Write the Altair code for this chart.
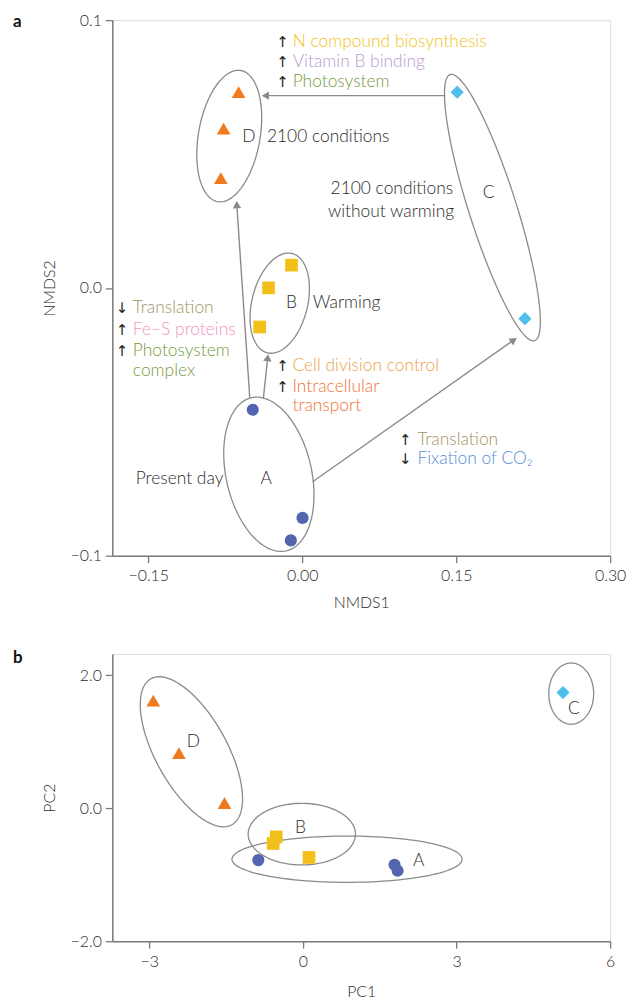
import math
import altair as alt
import pandas as pd

FONT = "Lato"
GREY = "#8a8a8a"
BOX = "#7a7a7a"
INK = "#2b2b2b"
TXT = 17.5

GROUPS = ["A", "B", "C", "D"]
SHAPES = ["circle", "square", "diamond", "triangle-up"]
COLORS = ["#5465b0", "#f2c018", "#4dbfea", "#f07a1e"]
SIZES = [150, 190, 210, 290]

# ---------------- panel a (NMDS) ----------------
a_group = ["A", "A", "A", "B", "B", "B", "C", "C", "D", "D", "D"]
a_x = [-0.0482, 0.0003, -0.0111, -0.0104, -0.0328, -0.0414, 0.151, 0.217, -0.062, -0.0766, -0.0793]
a_y = [-0.0455, -0.0859, -0.0943, 0.0085, 0.0000, -0.0146, 0.0731, -0.0115, 0.0731, 0.0595, 0.0410]

A_XDOM = [-0.185, 0.30]
A_YDOM = [-0.1, 0.1]
A_W, A_H = 501, 539
A_XT = [-0.15, 0.0, 0.15, 0.30]
A_YT = [-0.1, 0.0, 0.1]

# ellipses: id, centre x, centre y, semi-major (px), semi-minor (px), tilt (deg)
a_ell_id = ["A", "B", "C", "D"]
a_ell_cx = [-0.0325, -0.0219, 0.1853, -0.0711]
a_ell_cy = [-0.0696, -0.0057, 0.0300, 0.0567]
a_ell_a = [79, 51.5, 140.5, 67]
a_ell_b = [43, 28, 24, 31]
a_ell_tilt = [-12.8, 14, -17.6, 10]

# arrows (start -> tip)
arr_x0 = [0.1393, -0.0511, -0.0379, 0.0102]
arr_y0 = [0.0718, -0.0410, -0.0413, -0.0724]
arr_x1 = [-0.0398, -0.0640, -0.0332, 0.2093]
arr_y1 = [0.0718, 0.0326, -0.0246, -0.0186]

# coloured annotations: arrow glyph, text, colour, x of glyph, x of text, y
ann_glyph = ["↑", "↑", "↑", "↓", "↑", "↑", "", "↑", "↑", "", "↑", "↓"]
ann_text = ["N compound biosynthesis", "Vitamin B binding", "Photosystem",
            "Translation", "Fe–S proteins", "Photosystem", "complex",
            "Cell division control", "Intracellular", "transport",
            "Translation", "Fixation of CO₂"]
ann_color = ["#f4c21a", "#b99bcf", "#779a3c",
             "#9f9563", "#f296bf", "#779a3c", "#779a3c",
             "#eca24a", "#ee7534", "#ee7534",
             "#9f9563", "#588bd3"]
ann_gx = [-0.0192, -0.0192, -0.0192, -0.1756, -0.1756, -0.1756, -0.1756,
          -0.0192, -0.0192, -0.0192, 0.1003, 0.1003]
ann_tx = [-0.0093, -0.0093, -0.0093, -0.1650, -0.1650, -0.1650, -0.1650,
          -0.0095, -0.0095, -0.0095, 0.1122, 0.1122]
ann_y = [0.0920, 0.0845, 0.0768, -0.00765, -0.0157, -0.0235, -0.0309,
         -0.0291, -0.0369, -0.0443, -0.0567, -0.0640]

# black labels
lab_text = ["D", "2100 conditions", "2100 conditions", "without warming", "C",
            "B", "Warming", "Present day", "A"]
lab_x = [-0.0519, -0.0344, 0.1470, 0.1480, 0.1817, -0.0104, 0.0102, -0.1622, -0.0350]
lab_y = [0.0564, 0.0564, 0.0368, 0.0285, 0.0353, -0.0056, -0.0056, -0.0712, -0.0714]
lab_align = ["center", "left", "right", "right", "center", "center", "left", "left", "center"]

# ---------------- panel b (PCA) ----------------
b_group = ["A", "A", "A", "B", "B", "B", "C", "D", "D", "D"]
b_x = [-0.87, 1.79, 1.85, -0.52, -0.58, 0.12, 5.08, -2.92, -2.42, -1.53]
b_y = [-0.78, -0.85, -0.94, -0.43, -0.53, -0.74, 1.74, 1.62, 0.83, 0.08]

B_XDOM = [-3.72, 6.0]
B_YDOM = [-2.0, 2.32]
B_W, B_H = 501, 289
B_XT = [-3, 0, 3, 6]
B_YT = [-2.0, 0.0, 2.0]

b_ell_id = ["A", "B", "C", "D"]
b_ell_cx = [0.863, -0.02, 5.24, -2.176]
b_ell_cy = [-0.766, -0.389, 1.725, 0.85]
b_ell_a = [23.3, 31, 30.8, 84]
b_ell_b = [115.8, 54, 22.6, 36]
b_ell_tilt = [0, 0, 0, -29]

b_lab_text = ["D", "B", "A", "C"]
b_lab_x = [-2.14, -0.046, 2.26, 5.29]
b_lab_y = [1.00, -0.29, -0.79, 1.49]


def ellipse_df(ids, cxs, cys, As, Bs, tilts, kx, ky, n=120):
    rows = []
    for eid, cx, cy, a, b, tilt in zip(ids, cxs, cys, As, Bs, tilts):
        p = math.radians(tilt)
        for i in range(n + 1):
            t = 2 * math.pi * i / n
            u = b * math.cos(t)
            v = a * math.sin(t)
            dx = u * math.cos(p) - v * math.sin(p)
            dy = u * math.sin(p) + v * math.cos(p)
            rows.append({"id": eid, "o": i, "x": cx + dx / kx, "y": cy - dy / ky})
    return pd.DataFrame(rows)


def enc_xy(xdom, ydom, xt, yt, xfmt, yfmt, xtitle, ytitle, xtpad):
    common = dict(grid=False, tickSize=7, tickColor=BOX, domainColor=BOX,
                  domainWidth=1.5, tickWidth=1.3, labelFont=FONT, labelFontSize=16,
                  labelFontWeight=300, labelColor=INK, titleFont=FONT,
                  titleFontSize=16, titleFontWeight=300, titleColor=INK,
                  labelFlush=False)
    xa = alt.Axis(values=xt, format=xfmt, title=xtitle, labelPadding=5,
                  titlePadding=xtpad, **common)
    ya = alt.Axis(values=yt, format=yfmt, title=ytitle, labelPadding=4,
                  titlePadding=13, **common)
    xs = alt.Scale(domain=xdom, nice=False, zero=False)
    ys = alt.Scale(domain=ydom, nice=False, zero=False)
    return xs, ys, xa, ya


def panel(pts, ells, texts_black, xdom, ydom, xt, yt, xfmt, yfmt, xtitle, ytitle,
          w, h, letter, letter_y, xtpad, extra_layers_fn=None):
    xs, ys, xa, ya = enc_xy(xdom, ydom, xt, yt, xfmt, yfmt, xtitle, ytitle, xtpad)
    kx = w / (xdom[1] - xdom[0])
    ky = h / (ydom[1] - ydom[0])
    X = lambda f: alt.X(f, type="quantitative", scale=xs, axis=xa)
    Y = lambda f: alt.Y(f, type="quantitative", scale=ys, axis=ya)

    layers = []
    edf = ellipse_df(*ells, kx, ky)
    layers.append(alt.Chart(edf).mark_line(color=GREY, strokeWidth=1.3).encode(
        x=X("x"), y=Y("y"), order="o:Q", detail="id:N"))
    if extra_layers_fn is not None:
        layers += extra_layers_fn(X, Y, kx, ky)
    layers.append(alt.Chart(pts).mark_point(filled=True, opacity=1).encode(
        x=X("x"), y=Y("y"),
        shape=alt.Shape("g:N", scale=alt.Scale(domain=GROUPS, range=SHAPES), legend=None),
        color=alt.Color("g:N", scale=alt.Scale(domain=GROUPS, range=COLORS), legend=None),
        size=alt.Size("g:N", scale=alt.Scale(domain=GROUPS, range=SIZES), legend=None)))
    for al in ["left", "center", "right"]:
        sub = texts_black[texts_black["align"] == al]
        if len(sub):
            layers.append(alt.Chart(sub).mark_text(
                align=al, baseline="middle", font=FONT, fontSize=TXT, fontWeight=300,
                color=INK).encode(x=X("x"), y=Y("y"), text="t:N"))
    layers.append(alt.Chart(pd.DataFrame({"t": [letter]})).mark_text(
        align="left", baseline="middle", font=FONT, fontSize=17, fontWeight="bold",
        color="#111").encode(x=alt.value(-100), y=alt.value(letter_y), text="t:N"))
    return alt.layer(*layers).properties(width=w, height=h)


def a_extras(X, Y, kx, ky):
    out = []
    hx, hy, ang = [], [], []
    lx1, ly1 = [], []
    for x0, y0, x1, y1 in zip(arr_x0, arr_y0, arr_x1, arr_y1):
        dxp = (x1 - x0) * kx
        dyp = -(y1 - y0) * ky
        L = math.hypot(dxp, dyp)
        back = 4.0
        hx.append(x1 - dxp / L * back / kx)
        hy.append(y1 + dyp / L * back / ky)
        lx1.append(x1 - dxp / L * 6 / kx)
        ly1.append(y1 + dyp / L * 6 / ky)
        ang.append(math.degrees(math.atan2(dxp, -dyp)) % 360)
    adf = pd.DataFrame({"x": arr_x0, "y": arr_y0, "x2": lx1, "y2": ly1})
    out.append(alt.Chart(adf).mark_rule(color=GREY, strokeWidth=1.4).encode(
        x=X("x"), y=Y("y"), x2="x2:Q", y2="y2:Q"))
    hdf = pd.DataFrame({"x": hx, "y": hy, "ang": ang})
    out.append(alt.Chart(hdf).mark_point(filled=True, opacity=1, shape="triangle-up",
                                         size=70, color=GREY).encode(
        x=X("x"), y=Y("y"), angle=alt.Angle("ang:Q", scale=None)))
    gdf = pd.DataFrame({"x": ann_gx, "y": ann_y, "t": ann_glyph})
    gdf = gdf[gdf["t"] != ""]
    out.append(alt.Chart(gdf).mark_text(align="center", baseline="middle", font="DejaVu Sans",
                                        fontSize=15, color="#222").encode(
        x=X("x"), y=Y("y"), text="t:N"))
    tdf = pd.DataFrame({"x": ann_tx, "y": ann_y, "t": ann_text, "c": ann_color})
    out.append(alt.Chart(tdf).mark_text(align="left", baseline="middle", font=FONT,
                                        fontSize=TXT, fontWeight=300).encode(
        x=X("x"), y=Y("y"), text="t:N", color=alt.Color("c:N", scale=None)))
    return out


a_pts = pd.DataFrame({"x": a_x, "y": a_y, "g": a_group})
a_txt = pd.DataFrame({"x": lab_x, "y": lab_y, "t": lab_text, "align": lab_align})
chart_a = panel(a_pts, (a_ell_id, a_ell_cx, a_ell_cy, a_ell_a, a_ell_b, a_ell_tilt), a_txt,
                A_XDOM, A_YDOM, A_XT, A_YT, ".2f", ".1f", "NMDS1", "NMDS2",
                A_W, A_H, "a", 2, 11, a_extras)

b_pts = pd.DataFrame({"x": b_x, "y": b_y, "g": b_group})
b_txt = pd.DataFrame({"x": b_lab_x, "y": b_lab_y, "t": b_lab_text,
                      "align": ["center"] * len(b_lab_text)})
chart_b = panel(b_pts, (b_ell_id, b_ell_cx, b_ell_cy, b_ell_a, b_ell_b, b_ell_tilt), b_txt,
                B_XDOM, B_YDOM, B_XT, B_YT, "d", ".1f", "PC1", "PC2",
                B_W, B_H, "b", 4, 15)

chart = alt.vconcat(chart_a, chart_b, spacing=37).properties(
    padding={"left": 4, "top": 0, "right": 5, "bottom": 0}
).configure_view(stroke=BOX, strokeWidth=1.5).configure(background="white")

chart.save("out.html", embed_options={"renderer": "svg", "actions": False})
